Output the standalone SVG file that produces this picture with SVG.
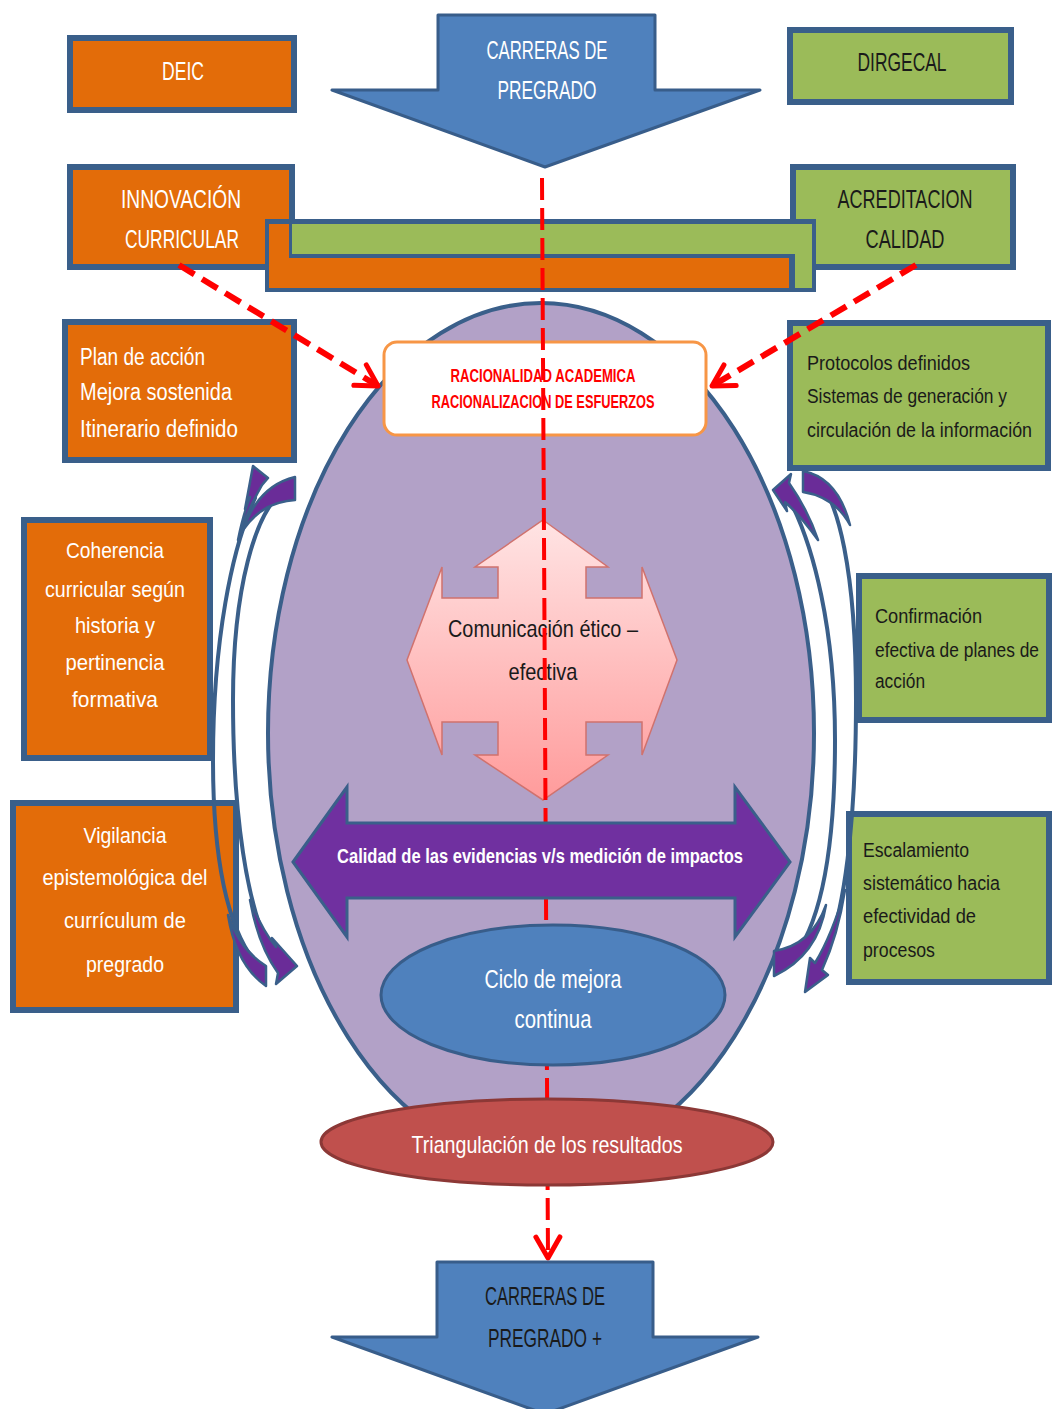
<svg xmlns="http://www.w3.org/2000/svg" width="1052" height="1409" viewBox="0 0 1052 1409">
<defs>
<linearGradient id="pinkGrad" x1="0" y1="0" x2="0" y2="1">
<stop offset="0" stop-color="#FFE4E4"/>
<stop offset="1" stop-color="#FF9B9B"/>
</linearGradient>
<marker id="redHead" viewBox="0 0 30 30" refX="27" refY="15" markerWidth="30" markerHeight="30" orient="auto" markerUnits="userSpaceOnUse">
<path d="M6,3 L27,15 L6,27" fill="none" stroke="#FF0000" stroke-width="5" stroke-linecap="round" stroke-linejoin="round"/>
</marker>
<style>
.box{stroke:#3A5F8A;stroke-width:6}
.or{fill:#E36C09}
.gr{fill:#9BBB59}
.t{font-family:"Liberation Sans",Arial,sans-serif}
.w{fill:#FFFFFF}
.d{fill:#1A1A1A}
.m{text-anchor:middle}
.curv{fill:#6A2C98;stroke:#3A5F8A;stroke-width:2.5;stroke-linejoin:round}
.shaft{fill:none;stroke:#3A5F8A;stroke-width:4;stroke-linecap:round}
.bigarrow{fill:#4F81BD;stroke:#385D8A;stroke-width:3;stroke-linejoin:round}
.dash{fill:none;stroke:#FF0000;stroke-width:6;stroke-dasharray:18 9}
.vdash{fill:none;stroke:#FF0000;stroke-width:4;stroke-dasharray:22 8}
</style>
</defs>
<rect x="0" y="0" width="1052" height="1409" fill="#FFFFFF"/>

<g id="ellipse-fondo">
<ellipse cx="541" cy="733" rx="273" ry="430" fill="#B2A1C7" stroke="#3A5F8A" stroke-width="4"/>
</g>

<g id="carreras-pregrado">
<path class="bigarrow" d="M438,15 L655,15 L655,90 L760,90 L545,167 L332,90 L438,90 Z"/>
<text class="t w m" x="547" y="59" font-size="25" textLength="121" lengthAdjust="spacingAndGlyphs">CARRERAS DE</text>
<text class="t w m" x="547" y="99" font-size="25" textLength="99" lengthAdjust="spacingAndGlyphs">PREGRADO</text>
</g>

<g id="deic">
<rect class="box or" x="70" y="38" width="224" height="72"/>
<text class="t w m" x="183" y="80" font-size="25" textLength="42" lengthAdjust="spacingAndGlyphs">DEIC</text>
</g>

<g id="dirgecal">
<rect class="box gr" x="790" y="30" width="221" height="72"/>
<text class="t d m" x="902" y="71" font-size="25" textLength="89" lengthAdjust="spacingAndGlyphs">DIRGECAL</text>
</g>

<g id="innovacion-curricular">
<rect class="box or" x="70" y="167" width="222" height="100"/>
<text class="t w m" x="181" y="208" font-size="25" textLength="120" lengthAdjust="spacingAndGlyphs">INNOVACIÓN</text>
<text class="t w m" x="182" y="248" font-size="25" textLength="114" lengthAdjust="spacingAndGlyphs">CURRICULAR</text>
</g>

<g id="acreditacion-calidad">
<rect class="box gr" x="793" y="167" width="220" height="100"/>
<text class="t d m" x="905" y="208" font-size="25" textLength="135" lengthAdjust="spacingAndGlyphs">ACREDITACION</text>
<text class="t d m" x="905" y="248" font-size="25" textLength="79" lengthAdjust="spacingAndGlyphs">CALIDAD</text>
</g>

<g id="barras">
<rect x="265" y="219" width="551" height="73" fill="#3A5F8A"/>
<path class="or" d="M269,224 H289 V258 H789 V288 H269 Z"/>
<path class="gr" d="M292,224 H812 V288 H795 V254 H292 Z"/>
</g>

<g id="plan-accion">
<rect class="box or" x="65" y="322" width="229" height="138"/>
<text class="t w" x="80" y="365" font-size="23" textLength="125" lengthAdjust="spacingAndGlyphs">Plan de acción</text>
<text class="t w" x="80" y="400" font-size="23" textLength="152" lengthAdjust="spacingAndGlyphs">Mejora sostenida</text>
<text class="t w" x="80" y="437" font-size="23" textLength="158" lengthAdjust="spacingAndGlyphs">Itinerario definido</text>
</g>

<g id="coherencia">
<rect class="box or" x="24" y="520" width="186" height="238"/>
<text class="t w m" x="115" y="558" font-size="22" textLength="98" lengthAdjust="spacingAndGlyphs">Coherencia</text>
<text class="t w m" x="115" y="597" font-size="22" textLength="140" lengthAdjust="spacingAndGlyphs">curricular según</text>
<text class="t w m" x="115" y="633" font-size="22" textLength="80" lengthAdjust="spacingAndGlyphs">historia y</text>
<text class="t w m" x="115" y="670" font-size="22" textLength="99" lengthAdjust="spacingAndGlyphs">pertinencia</text>
<text class="t w m" x="115" y="707" font-size="22" textLength="86" lengthAdjust="spacingAndGlyphs">formativa</text>
</g>

<g id="vigilancia">
<rect class="box or" x="13" y="803" width="223" height="207"/>
<text class="t w m" x="125" y="843" font-size="22" textLength="83" lengthAdjust="spacingAndGlyphs">Vigilancia</text>
<text class="t w m" x="125" y="885" font-size="22" textLength="165" lengthAdjust="spacingAndGlyphs">epistemológica del</text>
<text class="t w m" x="125" y="928" font-size="22" textLength="122" lengthAdjust="spacingAndGlyphs">currículum de</text>
<text class="t w m" x="125" y="972" font-size="22" textLength="78" lengthAdjust="spacingAndGlyphs">pregrado</text>
</g>

<g id="protocolos">
<rect class="box gr" x="790" y="323" width="258" height="145"/>
<text class="t d" x="807" y="370" font-size="20" textLength="163" lengthAdjust="spacingAndGlyphs">Protocolos definidos</text>
<text class="t d" x="807" y="403" font-size="20" textLength="200" lengthAdjust="spacingAndGlyphs">Sistemas de generación y</text>
<text class="t d" x="807" y="437" font-size="20" textLength="225" lengthAdjust="spacingAndGlyphs">circulación de la información</text>
</g>

<g id="confirmacion">
<rect class="box gr" x="859" y="576" width="190" height="144"/>
<text class="t d" x="875" y="623" font-size="20" textLength="107" lengthAdjust="spacingAndGlyphs">Confirmación</text>
<text class="t d" x="875" y="657" font-size="20" textLength="164" lengthAdjust="spacingAndGlyphs">efectiva de planes de</text>
<text class="t d" x="875" y="688" font-size="20" textLength="50" lengthAdjust="spacingAndGlyphs">acción</text>
</g>

<g id="escalamiento">
<rect class="box gr" x="849" y="814" width="200" height="168"/>
<text class="t d" x="863" y="857" font-size="20" textLength="106" lengthAdjust="spacingAndGlyphs">Escalamiento</text>
<text class="t d" x="863" y="890" font-size="20" textLength="137" lengthAdjust="spacingAndGlyphs">sistemático hacia</text>
<text class="t d" x="863" y="923" font-size="20" textLength="113" lengthAdjust="spacingAndGlyphs">efectividad de</text>
<text class="t d" x="863" y="957" font-size="20" textLength="72" lengthAdjust="spacingAndGlyphs">procesos</text>
</g>

<g id="flechas-curvas-izquierda">
<path class="shaft" d="M255,498 C232,548 213,640 213,760 C213,868 230,930 255,962"/>
<path class="curv" d="M253,466 L268,478 L262,485 Q245,515 238,540 Q243,515 250,497 L245,509 Z"/>
<path class="curv" d="M228,915 Q240,950 266,966 L266,986 Q236,965 228,915 Z"/>
<path class="shaft" d="M285,490 C255,510 233,590 233,700 C233,820 248,905 268,945"/>
<path class="curv" d="M295,477 Q258,486 243,530 Q262,502 295,500 Z"/>
<path class="curv" d="M250,900 Q262,930 276,947 L272,938 L297,966 L276,984 L278,973 Q258,945 250,900 Z"/>
</g>

<g id="flechas-curvas-derecha">
<path class="shaft" d="M788,497 C814,545 835,630 835,740 C835,860 818,930 790,962"/>
<path class="curv" d="M773,490 L791,474 L789,483 Q808,510 818,540 Q800,515 785,502 L787,511 Z"/>
<path class="curv" d="M826,905 Q812,945 774,951 L774,976 Q818,955 826,905 Z"/>
<path class="shaft" d="M810,474 C840,490 856,580 856,700 C856,830 843,910 828,950"/>
<path class="curv" d="M803,471 Q838,478 850,525 Q835,497 803,492 Z"/>
<path class="curv" d="M845,890 Q838,935 822,970 L828,975 L805,992 L810,958 L815,963 Q832,935 845,890 Z"/>
</g>

<g id="racionalidad">
<rect x="384" y="342" width="322" height="93" rx="13" fill="#FFFFFF" stroke="#F79646" stroke-width="3"/>
<text class="t m" x="543" y="382" font-size="18" font-weight="bold" fill="#FF0000" textLength="185" lengthAdjust="spacingAndGlyphs">RACIONALIDAD ACADEMICA</text>
<text class="t m" x="543" y="408" font-size="18" font-weight="bold" fill="#FF0000" textLength="223" lengthAdjust="spacingAndGlyphs">RACIONALIZACION DE ESFUERZOS</text>
</g>

<g id="comunicacion">
<path d="M543,520 L608,567 L586,567 L586,598 L642,598 L642,567 L677,660 L642,755 L642,722 L586,722 L586,755 L608,755 L543,800 L475,755 L498,755 L498,722 L442,722 L442,755 L407,660 L442,567 L442,598 L498,598 L498,567 L475,567 Z" fill="url(#pinkGrad)" stroke="#D0726E" stroke-width="1.5" stroke-linejoin="miter"/>
<text class="t d m" x="543" y="637" font-size="24" textLength="190" lengthAdjust="spacingAndGlyphs">Comunicación ético –</text>
<text class="t d m" x="543" y="680" font-size="24" textLength="69" lengthAdjust="spacingAndGlyphs">efectiva</text>
</g>

<g id="conectores">
<path class="vdash" d="M542,178 L548,1258" marker-end="url(#redHead)"/>
<path class="dash" d="M179,265 L378,386" marker-end="url(#redHead)"/>
<path class="dash" d="M916,265 L712,386" marker-end="url(#redHead)"/>
</g>

<g id="calidad-evidencias">
<path d="M293,862 L347,787 L347,823 L735,823 L735,787 L790,862 L735,937 L735,898 L347,898 L347,937 Z" fill="#7030A0" stroke="#3A5F8A" stroke-width="3" stroke-linejoin="miter"/>
<text class="t w m" x="540" y="863" font-size="20" font-weight="bold" textLength="406" lengthAdjust="spacingAndGlyphs">Calidad de las evidencias v/s medición de impactos</text>
</g>

<g id="ciclo-mejora">
<ellipse cx="553" cy="995" rx="172" ry="70" fill="#4F81BD" stroke="#385D8A" stroke-width="3"/>
<text class="t w m" x="553" y="988" font-size="25" textLength="137" lengthAdjust="spacingAndGlyphs">Ciclo de mejora</text>
<text class="t w m" x="553" y="1028" font-size="25" textLength="77" lengthAdjust="spacingAndGlyphs">continua</text>
</g>

<g id="triangulacion">
<ellipse cx="547" cy="1142" rx="226" ry="43" fill="#C0504D" stroke="#8C3836" stroke-width="3"/>
<text class="t w m" x="547" y="1153" font-size="24" textLength="271" lengthAdjust="spacingAndGlyphs">Triangulación de los resultados</text>
</g>

<g id="carreras-pregrado-mas">
<path class="bigarrow" d="M437,1262 L653,1262 L653,1337 L758,1337 L545,1414 L332,1337 L437,1337 Z"/>
<text class="t d m" x="545" y="1305" font-size="25" textLength="120" lengthAdjust="spacingAndGlyphs">CARRERAS DE</text>
<text class="t d m" x="545" y="1347" font-size="25" textLength="114" lengthAdjust="spacingAndGlyphs">PREGRADO +</text>
</g>
</svg>
